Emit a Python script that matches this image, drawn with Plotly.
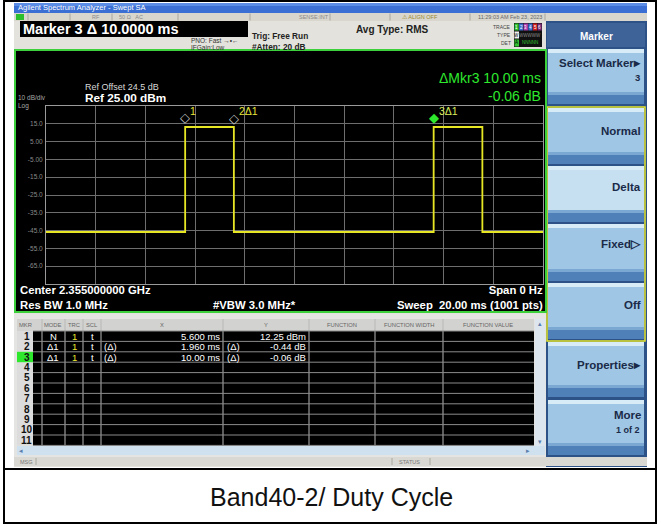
import plotly.graph_objects as go

# ---------------- data ----------------
trace_time_ms = [0, 5.6, 5.6, 7.56, 7.56, 15.6, 15.6, 17.56, 17.56, 20]
trace_level_dbm = [-45.8, -45.8, 13.2, 13.2, -45.8, -45.8, 13.2, 13.2, -45.8, -45.8]

y_tick_vals = [15, 5, -5, -15, -25, -35, -45, -55, -65]
y_tick_text = ["15.0", "5.00", "-5.00", "-15.0", "-25.0", "-35.0", "-45.0", "-55.0", "-65.0"]

marker_plot_x_ms = [5.6, 7.56, 15.6]
marker_plot_y_dbm = [12.25, 11.81, 12.19]
marker_plot_labels = ["1", "2\u03941", "3\u03941"]

mkr_num = [str(i) for i in range(1, 12)]
mkr_mode = ["N", "\u03941", "\u03941"]
mkr_trc = ["1", "1", "1"]
mkr_scl = ["t", "t", "t"]
mkr_x_ref = ["", "(\u0394)", "(\u0394)"]
mkr_x_text = ["5.600 ms", "1.960 ms", "10.00 ms"]
mkr_y_ref = ["", "(\u0394)", "(\u0394)"]
mkr_y_text = ["12.25 dBm", "-0.44 dB", "-0.06 dB"]

softkeys = ["Select Marker\u25b8", "Normal", "Delta", "Fixed\u25b7", "Off", "Properties\u25b8", "More"]

# ---------------- helpers ----------------
W, H = 661, 527
FONT = "Liberation Sans, Arial, sans-serif"
shapes, annots = [], []


def px(x):
    return x / W


def py(y):
    return 1 - y / H


def rect(x0, y0, x1, y1, fill=None, line=None, lw=1, layer="below"):
    shapes.append(dict(type="rect", xref="paper", yref="paper",
                       x0=px(x0), x1=px(x1), y0=py(y1), y1=py(y0),
                       fillcolor=fill if fill else "rgba(0,0,0,0)",
                       line=dict(color=line if line else "rgba(0,0,0,0)", width=lw if line else 0),
                       layer=layer))


def hline(x0, x1, y, color, lw=1, layer="below"):
    shapes.append(dict(type="line", xref="paper", yref="paper", x0=px(x0), x1=px(x1),
                       y0=py(y), y1=py(y), line=dict(color=color, width=lw), layer=layer))


def vline(x, y0, y1, color, lw=1, layer="below"):
    shapes.append(dict(type="line", xref="paper", yref="paper", x0=px(x), x1=px(x),
                       y0=py(y0), y1=py(y1), line=dict(color=color, width=lw), layer=layer))


def txt(x, y, s, size=8, color="#000", anchor="left", bold=False):
    if bold:
        s = "<b>" + s.replace("<br>", "</b><br><b>") + "</b>"
    annots.append(dict(xref="paper", yref="paper", x=px(x), y=py(y), text=s,
                       showarrow=False, xanchor=anchor, yanchor="middle", borderpad=0,
                       align=anchor if anchor in ("left", "right") else "center",
                       font=dict(size=size, color=color, family=FONT)))


# ---------------- frame & caption ----------------
rect(0, 0, W, H, fill="white")
rect(14, 3, 647, 467, fill="#e3e2dc")
rect(4, 1, 656, 523, line="#000000", lw=2)
hline(4, 656, 469, "#000000", 2)
txt(331, 497, "Band40-2/ Duty Cycle", size=25, color="#111111", anchor="center")

# ---------------- title and status bars ----------------
rect(14, 3, 647, 13, fill="#3c6fd3")
rect(14, 3, 647, 6, fill="#5b8ce6")
txt(17, 8, "Agilent Spectrum Analyzer - Swept SA", size=7.5, color="#ffffff")
rect(14, 13, 647, 21, fill="#d8d6cd")
for sx in [28, 70, 112, 178, 250, 330, 390, 470, 545]:
    vline(sx, 13.5, 20.5, "#a8a69e")
rect(16, 14, 24, 20, fill="#2bbf2b")
txt(96, 17, "RF", size=5.5, color="#8a8a88", anchor="center")
txt(131, 17, "50 \u03a9   AC", size=5.5, color="#8a8a88", anchor="center")
txt(314, 17, "SENSE:INT", size=5.5, color="#8a8a88", anchor="center")
txt(420, 17, "\u26a0 ALIGN OFF", size=5.5, color="#9a8a30", anchor="center")
txt(510, 17, "11:29:03 AM Feb 23, 2023", size=5.5, color="#666666", anchor="center")

# marker banner
rect(20, 21, 248, 37, fill="#000000")
txt(22, 29, "Marker 3 \u0394 10.0000 ms", size=14.5, color="#ffffff", bold=True)
txt(190, 40, "PNO: Fast \u2192\u2022\u2190", size=6.5, color="#333333")
txt(190, 47.5, "IFGain:Low", size=6.5, color="#333333")
txt(251, 36.5, "Trig: Free Run", size=8.3, color="#222222", bold=True)
txt(251, 47.5, "#Atten: 20 dB", size=8.3, color="#222222", bold=True)
txt(355, 30, "Avg Type: RMS", size=10, color="#222222", bold=True)

# trace/type/det indicator
txt(512, 27, "TRACE", size=5, color="#444444", anchor="right")
txt(512, 35, "TYPE", size=5, color="#444444", anchor="right")
txt(512, 43, "DET", size=5, color="#444444", anchor="right")
rect(514, 23, 542, 47, fill="#101010")
trace_cols = ["#1a1a1a", "#3a6fd0", "#b040b0", "#3a6fd0", "#d02020", "#7a2a7a"]
for i, c in enumerate(trace_cols):
    x0 = 514.5 + i * 4.6
    rect(x0, 23.5, x0 + 4.2, 30.5, fill="#30c030" if i == 0 else c)
    txt(x0 + 2.1, 27, str(i + 1), size=4.5, color="#ffffff", anchor="center")
rect(514.5, 31.5, 519, 38.5, fill="#f0f0f0")
txt(516.7, 35, "W", size=4.5, color="#000000", anchor="center")
txt(530, 35, "WWWWW", size=4.5, color="#888888", anchor="center")
rect(514.5, 39.5, 519, 46.5, fill="#30c030")
txt(516.7, 43, "A", size=4.5, color="#000000", anchor="center")
txt(530, 43, "NNNNN", size=4.5, color="#30c030", anchor="center")

# ---------------- softkey panel ----------------
rect(546, 21, 647, 467, fill="#2d5288")
rect(547, 23, 645, 47, fill="#3e6399")
txt(596, 36, "Marker", size=10, color="#ffffff", anchor="center", bold=True)
key_rows = [(49, 104), (108, 164), (166, 222), (224, 281), (283, 339), (342, 397), (400, 455)]
key_text_y = [63, 131, 187, 244, 305, 365, 415]
for k, ((y0, y1), label, ty) in enumerate(zip(key_rows, softkeys, key_text_y)):
    base = "#c6e0f2" if label == "Delta" else "#9fc6e4"
    rect(548, y0, 644, y1, fill=base)
    rect(548, y0, 644, y0 + 4, fill="#d8ecf8")
    rect(548, y1 - 9, 644, y1, fill="#4f80b8")
    rect(548, y1 - 12, 644, y1 - 9, fill="#7aa8d2")
    txt(642, ty, label, size=11.5, color="#1a2a48", anchor="right", bold=True)
txt(641, 77, "3", size=9.5, color="#1a2a48", anchor="right", bold=True)
txt(641, 430, "1 of 2", size=9, color="#1a2a48", anchor="right", bold=True)
rect(547, 107, 645, 341, line="#e6e628", lw=1.5)

# ---------------- graph window ----------------
rect(15, 50, 546, 312, fill="#000000", line="#3cd03c", lw=2)
txt(84, 87, "Ref Offset 24.5 dB", size=9, color="#d8d8d8")
txt(84, 98, "Ref 25.00 dBm", size=11.8, color="#ffffff", bold=True)
txt(17, 97.5, "10 dB/div", size=6.5, color="#a8a8a8")
txt(17, 106, "Log", size=6.5, color="#a8a8a8")
txt(542, 87.5, "\u0394Mkr3 10.00 ms<br>-0.06 dB", size=14, color="#2ee82e", anchor="right")
txt(19, 297.5, "Center 2.355000000 GHz<br>Res BW 1.0 MHz", size=11.3, color="#ffffff", bold=True)
txt(544, 297.5, "Span 0 Hz<br>Sweep  20.00 ms (1001 pts)", size=11.3, color="#ffffff",
    anchor="right", bold=True)
txt(212, 304.5, "#VBW 3.0 MHz*", size=11.3, color="#ffffff", bold=True)

# ---------------- marker table ----------------
tb_top, row_h = 331, 10.4
rect(14, 314, 546, 457, fill="#e4e4e2")
rect(17, 319, 534, 331, fill="#d2d2d0")
rect(33, tb_top, 534, tb_top + 11 * row_h, fill="#000000")
rect(17, tb_top, 33, tb_top + 11 * row_h, fill="#dcdcdc")
rect(17, tb_top + 2 * row_h, 33, tb_top + 3 * row_h, fill="#2ee82e")
col_lines = [42, 65, 83, 101, 223, 309, 375, 443]
for cx in col_lines:
    vline(cx, 319, tb_top + 11 * row_h, "#b8b8b8")
for r in range(12):
    hline(33, 534, tb_top + r * row_h, "#8a8a8a")
hdr_y = 325
for label, hx in [("MKR", 25), ("MODE", 53), ("TRC", 74), ("SCL", 92), ("X", 162), ("Y", 266),
                  ("FUNCTION", 342), ("FUNCTION WIDTH", 409), ("FUNCTION VALUE", 488)]:
    txt(hx, hdr_y, label, size=5.8, color="#666666", anchor="center")
for i, n in enumerate(mkr_num):
    ry = tb_top + (i + 0.5) * row_h
    txt(27, ry, n, size=10, color="#111111", anchor="center", bold=True)
    if i < len(mkr_mode):
        txt(53, ry, mkr_mode[i], size=9.5, color="#ffffff", anchor="center")
        txt(74, ry, mkr_trc[i], size=9.5, color="#e8e830", anchor="center")
        txt(92, ry, mkr_scl[i], size=9.5, color="#ffffff", anchor="center")
        txt(103, ry, mkr_x_ref[i], size=9.5, color="#ffffff")
        txt(221, ry, mkr_x_text[i], size=9.5, color="#ffffff", anchor="right")
        txt(226, ry, mkr_y_ref[i], size=9.5, color="#ffffff")
        txt(307, ry, mkr_y_text[i], size=9.5, color="#ffffff", anchor="right")
# scrollbars
rect(535, 319, 545, 446, fill="#dde6ee")
txt(540, 323, "\u25b4", size=7, color="#5a7fae", anchor="center")
txt(540, 441, "\u25be", size=7, color="#5a7fae", anchor="center")
rect(17, 446, 545, 455, fill="#cfe0ef")
txt(21, 450.5, "\u25c2", size=7, color="#5a7fae", anchor="center")
txt(528, 450.5, "\u25b8", size=7, color="#5a7fae", anchor="center")
# status bar
rect(14, 457, 647, 466, fill="#d9d8d2")
vline(36, 458, 465, "#a8a8a0")
vline(392, 458, 465, "#a8a8a0")
vline(430, 458, 465, "#a8a8a0")
txt(19, 461.5, "MSG", size=5.5, color="#777777")
txt(398, 461.5, "STATUS", size=5.5, color="#777777")

# ---------------- trace ----------------
fig = go.Figure()
fig.add_trace(go.Scatter(x=trace_time_ms, y=trace_level_dbm, mode="lines",
                         line=dict(color="#e6e624", width=1.8), hoverinfo="skip",
                         showlegend=False))

for i, (mx, my, ml) in enumerate(zip(marker_plot_x_ms, marker_plot_y_dbm, marker_plot_labels)):
    active = (i == 2)
    annots.append(dict(xref="x", yref="y", x=mx, y=my, text="\u25c6" if active else "\u25c7",
                       showarrow=False, yshift=11, xanchor="center", yanchor="middle",
                       font=dict(size=13, color="#2ee82e" if active else "#c8c8c8", family="DejaVu Sans")))
    annots.append(dict(xref="x", yref="y", x=mx, y=my, text=ml, showarrow=False,
                       xshift=3, yshift=18, xanchor="left", yanchor="middle",
                       font=dict(size=10.5, color="#d8ec5a" if active else "#e6e43a", family=FONT)))

fig.update_layout(
    width=W, height=H, margin=dict(l=0, r=0, t=0, b=0),
    paper_bgcolor="white", plot_bgcolor="#000000",
    shapes=shapes, annotations=annots, showlegend=False,
    xaxis=dict(domain=[px(46), px(543)], range=[0, 20], dtick=2, showgrid=True,
               gridcolor="#6e6e6e", gridwidth=1, zeroline=False, showticklabels=False,
               showline=True, mirror=True, linecolor="#9a9a9a", linewidth=1, ticks=""),
    yaxis=dict(domain=[py(284), py(106)], range=[-75, 25], tickvals=y_tick_vals,
               ticktext=y_tick_text, showgrid=True, gridcolor="#6e6e6e", gridwidth=1,
               zeroline=False, showline=True, mirror=True, linecolor="#9a9a9a", linewidth=1,
               tickfont=dict(size=6.5, color="#8a8a8a", family=FONT), ticks="",
               ticklabelstandoff=1),
)

fig.write_html("out.html", config={"displayModeBar": False},
               post_script="document.body.style.margin='0';")
